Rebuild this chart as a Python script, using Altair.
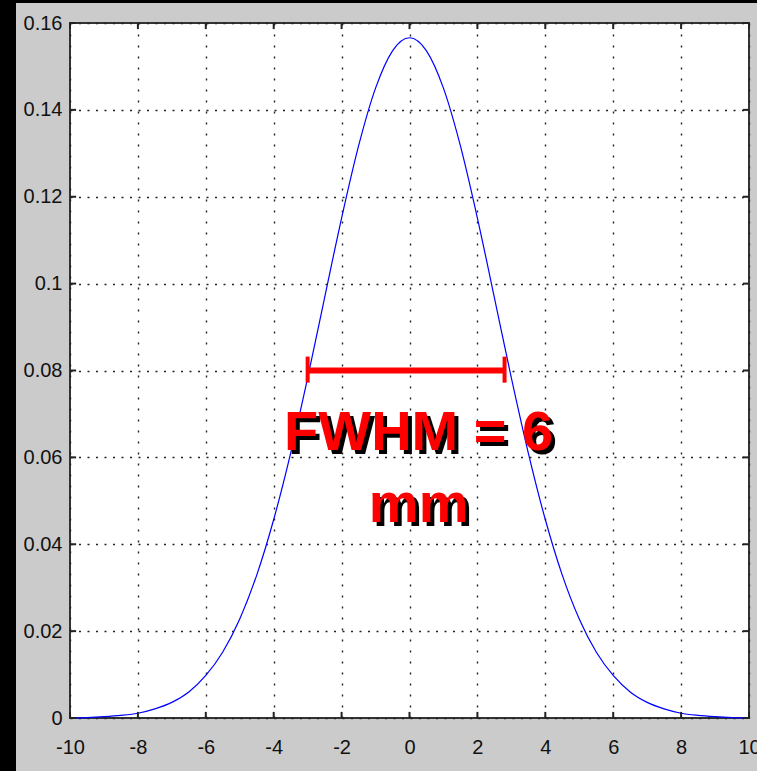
import altair as alt
import pandas as pd

# ---- data ----
x_vals = [-10, -9.5, -9, -8.5, -8, -7.5, -7, -6.5, -6, -5.5, -5, -4.5, -4, -3.5, -3, -2.5, -2, -1.5, -1, -0.5,
          0, 0.5, 1, 1.5, 2, 2.5, 3, 3.5, 4, 4.5, 5, 5.5, 6, 6.5, 7, 7.5, 8, 8.5, 9, 9.5, 10]
y_vals = [0.0000, 0.0001, 0.0003, 0.0006, 0.0011, 0.0021, 0.0036, 0.0060, 0.0098, 0.0152, 0.0228, 0.0329,
          0.0457, 0.0610, 0.0783, 0.0968, 0.1151, 0.1317, 0.1450, 0.1536,
          0.1566, 0.1536, 0.1450, 0.1317, 0.1151, 0.0968, 0.0783, 0.0610, 0.0457, 0.0329, 0.0228, 0.0152,
          0.0098, 0.0060, 0.0036, 0.0021, 0.0011, 0.0006, 0.0003, 0.0001, 0.0000]

x_ticks = [-10, -8, -6, -4, -2, 0, 2, 4, 6, 8, 10]
y_ticks = [0, 0.02, 0.04, 0.06, 0.08, 0.1, 0.12, 0.14, 0.16]

fwhm_left = -3.0
fwhm_right = 2.8
fwhm_level = 0.08
fwhm_cap = [0.0772, 0.0832]
label_lines = ["FWHM = 6", "mm"]
label_x = 0.27
label_y = [0.0617, 0.0451]

X_DOM = [-10, 10]
Y_DOM = [0, 0.16]

curve = pd.DataFrame({"x": x_vals, "y": y_vals})

xs = alt.Scale(domain=X_DOM, nice=False, zero=False, padding=0)
ys = alt.Scale(domain=Y_DOM, nice=False, zero=False, padding=0)

LBL_FONT = "Liberation Sans Narrow, Liberation Sans, Arial"

xax = alt.Axis(values=x_ticks, title=None, ticks=False, domain=False, grid=True,
               gridColor="#222222", gridDash=[2, 9], gridWidth=1.4, gridOpacity=1,
               labelFont=LBL_FONT, labelFontSize=20, labelColor="#111111",
               labelPadding=19, labelExpr="'' + datum.value", labelFlush=False)
yax = alt.Axis(values=y_ticks, title=None, ticks=False, domain=False, grid=True,
               gridColor="#222222", gridDash=[2, 6.5], gridWidth=1.4, gridOpacity=1,
               labelFont=LBL_FONT, labelFontSize=20, labelColor="#111111",
               labelPadding=8, labelExpr="'' + datum.value", labelFlush=False)

# decoration: black strips at the left and top of the picture
deco = pd.DataFrame({"k": [0]})
strip_left = alt.Chart(deco).mark_rect(color="black").encode(
    x=alt.value(-70), x2=alt.value(-54), y=alt.value(-23), y2=alt.value(748))
strip_top = alt.Chart(deco).mark_rect(color="black").encode(
    x=alt.value(-54), x2=alt.value(687), y=alt.value(-23), y2=alt.value(-20))

line = alt.Chart(curve).mark_line(color="#0000ff", strokeWidth=1.2, interpolate="monotone").encode(
    x=alt.X("x:Q", scale=xs, axis=xax),
    y=alt.Y("y:Q", scale=ys, axis=yax),
)

bar_df = pd.DataFrame({"x": [fwhm_left], "x2": [fwhm_right], "y": [fwhm_level]})
bar = alt.Chart(bar_df).mark_rule(color="#ff0000", strokeWidth=6).encode(
    x=alt.X("x:Q", scale=xs), x2="x2:Q", y=alt.Y("y:Q", scale=ys))

caps_df = pd.DataFrame({"x": [fwhm_left, fwhm_right], "y": [fwhm_cap[0]] * 2, "y2": [fwhm_cap[1]] * 2})
caps = alt.Chart(caps_df).mark_rule(color="#ff0000", strokeWidth=4).encode(
    x=alt.X("x:Q", scale=xs), y=alt.Y("y:Q", scale=ys), y2="y2:Q")

txt_df = pd.DataFrame({"t": label_lines, "x": [label_x] * 2, "y": label_y})
txt_kw = dict(font="Liberation Sans", fontSize=56, fontWeight="bold", align="center", baseline="alphabetic")
shadow = alt.Chart(txt_df).mark_text(color="black", dx=4, dy=4, **txt_kw).encode(
    x=alt.X("x:Q", scale=xs), y=alt.Y("y:Q", scale=ys), text="t:N")
red_txt = alt.Chart(txt_df).mark_text(color="#ff0000", **txt_kw).encode(
    x=alt.X("x:Q", scale=xs), y=alt.Y("y:Q", scale=ys), text="t:N")

# inward ticks on all four sides (MATLAB style)
TX = 0.18
TY = 0.0014
rows = []
for v in x_ticks:
    rows.append({"x": v, "x2": v, "y": Y_DOM[0], "y2": Y_DOM[0] + TY})
    rows.append({"x": v, "x2": v, "y": Y_DOM[1], "y2": Y_DOM[1] - TY})
for v in y_ticks:
    rows.append({"x": X_DOM[0], "x2": X_DOM[0] + TX, "y": v, "y2": v})
    rows.append({"x": X_DOM[1], "x2": X_DOM[1] - TX, "y": v, "y2": v})
ticks = alt.Chart(pd.DataFrame(rows)).mark_rule(color="#222222", strokeWidth=2).encode(
    x=alt.X("x:Q", scale=xs), x2="x2:Q", y=alt.Y("y:Q", scale=ys), y2="y2:Q")

chart = alt.layer(strip_left, strip_top, line, ticks, bar, caps, shadow, red_txt).properties(
    width=679, height=695,
    autosize=alt.AutoSizeParams(type="none"),
    padding={"left": 70, "top": 23, "right": 8, "bottom": 53},
    background="#cbcbcb",
).configure_view(
    fill="white", stroke="#333333", strokeWidth=2
)

chart.save("out.html", embed_options={"renderer": "svg", "actions": False})
